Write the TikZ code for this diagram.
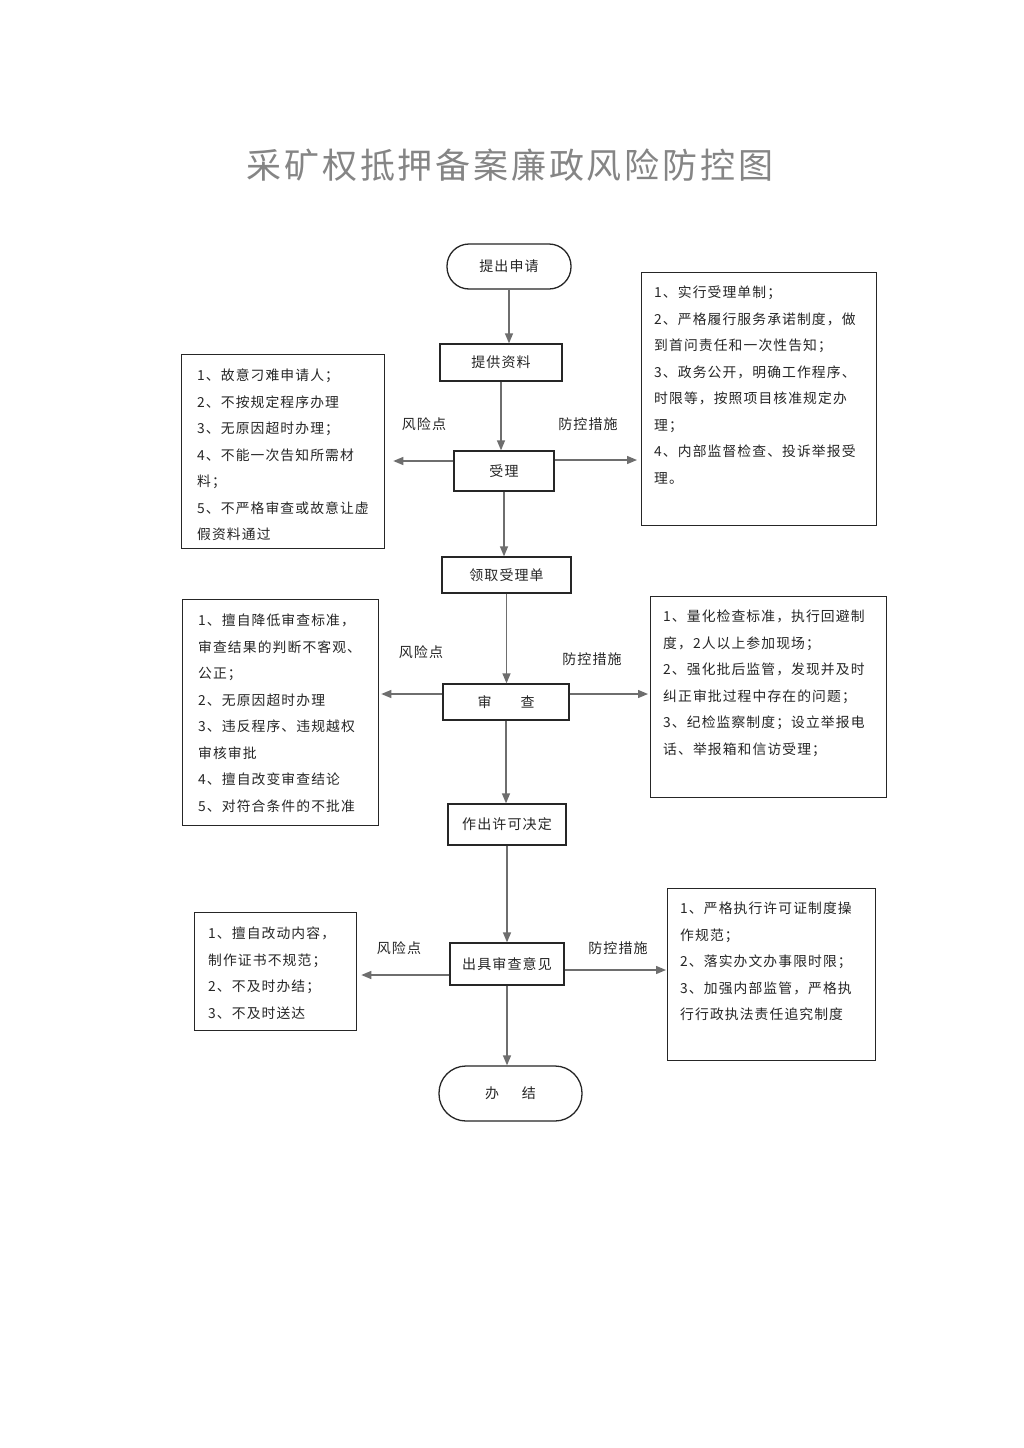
\documentclass[tikz,border=0pt]{standalone}
\usepackage{fontspec}
\setmainfont{Noto Sans CJK SC}[LetterSpace=8]
\usetikzlibrary{arrows.meta}
\definecolor{ink}{HTML}{262626}
\definecolor{arr}{HTML}{6E6E6E}
\definecolor{ttl}{HTML}{858585}
\tikzset{
  flowbox/.style={draw=ink, line width=1.3pt, inner sep=0pt, text=ink,
    font=\fontsize{14}{16}\selectfont},
  sidebox/.style={draw=ink, line width=1.3pt, inner sep=0pt, anchor=north west},
  txt/.style={font=\fontsize{13.8}{26.5}\selectfont, text=ink, align=left,
    inner sep=0pt, anchor=north west},
  lbl/.style={font=\fontsize{14}{16}\selectfont, text=ink, inner sep=0pt},
  flow/.style={draw=arr, line width=1.3pt, -{Triangle[length=10pt,width=8pt]}},
}
\begin{document}
\begin{tikzpicture}[x=1pt,y=-1pt]
\useasboundingbox (0,0) rectangle (1024,1448);
\fill[white] (0,0) rectangle (1024,1448);

% title
\node[font=\fontsize{35}{40}\selectfont, text=ttl, inner sep=0pt] (title) at (510,165) {采矿权抵押备案廉政风险防控图};

% main flow
\node[flowbox, minimum width=124pt, minimum height=45pt, rounded corners=22pt] (start) at (509,266.5) {提出申请};
\node[flowbox, minimum width=122pt, minimum height=37pt] (p1) at (501,362.5) {提供资料};
\node[flowbox, minimum width=100pt, minimum height=40pt] (p2) at (504,471) {受理};
\node[flowbox, minimum width=129pt, minimum height=36pt] (p3) at (506.5,575) {领取受理单};
\node[flowbox, minimum width=126pt, minimum height=36pt] (p4) at (506,702) {审\hspace{29pt}查};
\node[flowbox, minimum width=118pt, minimum height=41pt] (p5) at (507,824.5) {作出许可决定};
\node[flowbox, minimum width=114pt, minimum height=42pt] (p6) at (507,964) {出具审查意见};
\node[flowbox, minimum width=143pt, minimum height=55pt, rounded corners=27pt] (fin) at (510.5,1093.5) {办\hspace{23pt}结};

% side boxes
\node[sidebox, minimum width=203pt, minimum height=194pt] (r1) at (181,354) {};
\node[sidebox, minimum width=235pt, minimum height=253pt] (m1) at (641,272) {};
\node[sidebox, minimum width=196pt, minimum height=226pt] (r2) at (182,599) {};
\node[sidebox, minimum width=236pt, minimum height=201pt] (m2) at (650,596) {};
\node[sidebox, minimum width=162pt, minimum height=118pt] (r3) at (194,912) {};
\node[sidebox, minimum width=208pt, minimum height=172pt] (m3) at (667,888) {};

% side texts
\node[txt] (r1t) at (197,369) {1、故意刁难申请人；\\2、不按规定程序办理\\3、无原因超时办理；\\4、不能一次告知所需材\\料；\\5、不严格审查或故意让虚\\假资料通过};
\node[txt] (m1t) at (654,286) {1、实行受理单制；\\2、严格履行服务承诺制度，做\\到首问责任和一次性告知；\\3、政务公开，明确工作程序、\\时限等，按照项目核准规定办\\理；\\4、内部监督检查、投诉举报受\\理。};
\node[txt] (r2t) at (198,614) {1、擅自降低审查标准，\\审查结果的判断不客观、\\公正；\\2、无原因超时办理\\3、违反程序、违规越权\\审核审批\\4、擅自改变审查结论\\5、对符合条件的不批准};
\node[txt] (m2t) at (663,610) {1、量化检查标准，执行回避制\\度，2人以上参加现场；\\2、强化批后监管，发现并及时\\纠正审批过程中存在的问题；\\3、纪检监察制度；设立举报电\\话、举报箱和信访受理；};
\node[txt] (r3t) at (208,927) {1、擅自改动内容，\\制作证书不规范；\\2、不及时办结；\\3、不及时送达};
\node[txt] (m3t) at (680,902) {1、严格执行许可证制度操\\作规范；\\2、落实办文办事限时限；\\3、加强内部监管，严格执\\行行政执法责任追究制度};

% labels
\node[lbl] (l1) at (424,424) {风险点};
\node[lbl] (k1) at (588,424) {防控措施};
\node[lbl] (l2) at (421,652) {风险点};
\node[lbl] (k2) at (592,659) {防控措施};
\node[lbl] (l3) at (399,948) {风险点};
\node[lbl] (k3) at (618,948) {防控措施};

% vertical flow arrows
\draw[flow] (start.south) -- (start.south |- p1.north);
\draw[flow] (p1.south) -- (p1.south |- p2.north);
\draw[flow] (p2.south) -- (p2.south |- p3.north);
\draw[flow] (p3.south) -- (p3.south |- p4.north);
\draw[flow] (p4.south) -- (p4.south |- p5.north);
\draw[flow] (p5.south) -- (p5.south |- p6.north);
\draw[flow] (p6.south) -- (p6.south |- fin.north);

% side arrows
\draw[flow, shorten >=8pt] (p2.west |- 0,461) -- (r1.east |- 0,461);
\draw[flow, shorten >=4pt] (p2.east |- 0,460) -- (m1.west |- 0,460);
\draw[flow, shorten >=2pt] (p4.west |- 0,694) -- (r2.east |- 0,694);
\draw[flow, shorten >=2pt] (p4.east |- 0,694) -- (m2.west |- 0,694);
\draw[flow, shorten >=4pt] (p6.west |- 0,975) -- (r3.east |- 0,975);
\draw[flow, shorten >=1pt] (p6.east |- 0,970) -- (m3.west |- 0,970);
\end{tikzpicture}
\end{document}
